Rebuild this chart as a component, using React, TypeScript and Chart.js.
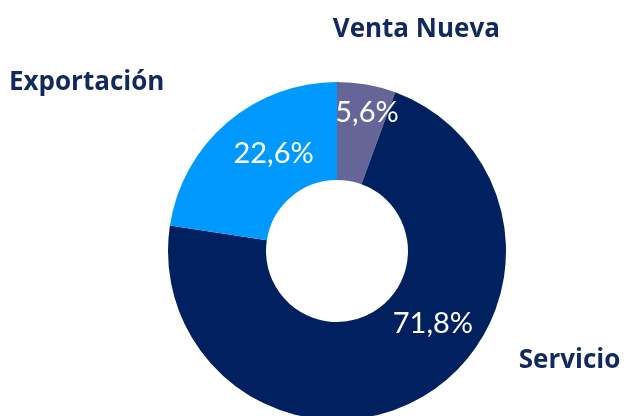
import React, { useEffect, useRef } from "react";
import { Chart, registerables } from "chart.js";

Chart.register(...registerables);

const categories = ["Venta Nueva", "Servicio", "Exportación"];
const shares = [5.6, 71.8, 22.6];
const sliceColors = ["#656598", "#002060", "#0099FF"];

// label layout: polar position (degrees clockwise from top, multiple of outer radius)
const pctLabelPolar = [
  [12.1, 0.847],
  [126.7, 0.708],
  [327.1, 0.691],
];
const catLabelPolar = [
  [19.5, 1.406],
  [114.9, 1.517],
  [304.2, 1.791],
];

const fmt = (v: number) => v.toFixed(1).replace(".", ",") + "%";

const labelPlugin = {
  id: "labels",
  afterDatasetsDraw(chart: any) {
    const ctx = chart.ctx;
    const meta = chart.getDatasetMeta(0);
    const arc0 = meta.data[0] as any;
    const cx = arc0.x;
    const cy = arc0.y;
    const R = arc0.outerRadius;
    const draw = (text: string, ang: number, rf: number, font: string, color: string) => {
      const a = (ang * Math.PI) / 180;
      const x = cx + Math.sin(a) * rf * R;
      const y = cy - Math.cos(a) * rf * R;
      ctx.save();
      ctx.font = font;
      ctx.fillStyle = color;
      ctx.textAlign = "center";
      ctx.textBaseline = "alphabetic";
      const capH = ctx.measureText("H").actualBoundingBoxAscent;
      ctx.fillText(text, x, y + capH / 2);
      ctx.restore();
    };
    shares.forEach((v, i) => {
      draw(fmt(v), pctLabelPolar[i][0], pctLabelPolar[i][1], "29px Lato", "#ffffff");
      draw(categories[i], catLabelPolar[i][0], catLabelPolar[i][1], "bold 26px 'Open Sans'", "#13285E");
    });
  },
};

export default function App() {
  const ref = useRef<HTMLCanvasElement>(null);
  useEffect(() => {
    document.body.style.margin = "0";
    document.body.style.overflow = "hidden";
    const chart = new Chart(ref.current!, {
      type: "doughnut",
      data: {
        labels: categories,
        datasets: [
          {
            data: shares,
            backgroundColor: sliceColors,
            borderWidth: 0,
            hoverOffset: 0,
            offset: 0,
          },
        ],
      },
      options: {
        animation: false,
        responsive: false,
        cutout: "42%",
        layout: { padding: { left: 168, right: 118, top: 82, bottom: 20 } },
        plugins: { legend: { display: false }, tooltip: { enabled: false } },
      },
      plugins: [labelPlugin],
    });
    return () => chart.destroy();
  }, []);
  return (
    <div style={{ position: "absolute", left: 0, top: 0, width: 624, height: 440, background: "#fff" }}>
      <canvas ref={ref} width={624} height={440} style={{ width: 624, height: 440 }} />
    </div>
  );
}
